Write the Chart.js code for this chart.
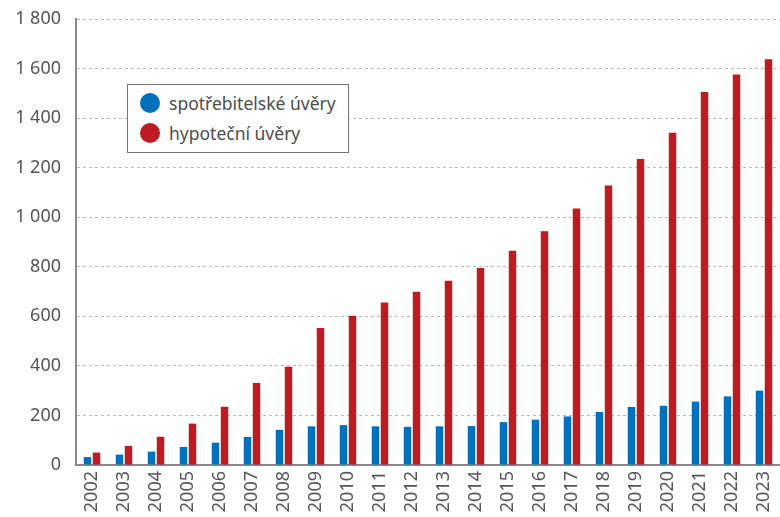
<!DOCTYPE html>
<html>
<head>
<meta charset="utf-8">
<script src="https://cdn.jsdelivr.net/npm/chart.js@4.4.1/dist/chart.umd.min.js"></script>
<style>
  body { margin: 0; background: #fff; }
  #wrap { position: relative; width: 780px; height: 517px; }
  #legend {
    position: absolute; left: 127px; top: 84px; width: 220px; height: 67px;
    border: 1.5px solid #777; background: #fff;
    font-family: "Noto Sans", sans-serif; font-size: 17.5px; color: #4d4d4d;
  }
  #legend .item { position: absolute; left: 12px; height: 20px; line-height: 20px; white-space: nowrap; }
  #legend .dot { display: inline-block; width: 20px; height: 20px; border-radius: 50%; vertical-align: middle; margin-right: 9px; position: relative; top: -2px; }
</style>
</head>
<body>
<div id="wrap">
  <canvas id="chart"></canvas>
  <div id="legend"></div>
</div>
<script>
const years = ["2002", "2003", "2004", "2005", "2006", "2007", "2008", "2009", "2010", "2011", "2012",
  "2013", "2014", "2015", "2016", "2017", "2018", "2019", "2020", "2021", "2022", "2023"];
const consumer = [32, 42, 54, 73, 90, 113, 142, 156, 161, 156, 154, 156, 157, 173, 183, 196, 214, 234, 239, 256, 277, 300];
const mortgage = [50, 77, 114, 167, 235, 331, 397, 553, 602, 656, 699, 744, 795, 865, 943, 1035, 1128, 1235, 1341, 1505, 1576, 1638];
const seriesNames = ["spotřebitelské úvěry", "hypoteční úvěry"];
const seriesColors = ["#0070BA", "#BE1A22"];

const font = { family: "'Noto Sans', sans-serif", size: 18 };

// legend drawn as html on top of the canvas
const legend = document.getElementById("legend");
seriesNames.forEach((name, i) => {
  const item = document.createElement("div");
  item.className = "item";
  item.style.top = (8 + i * 30) + "px";
  item.innerHTML = '<span class="dot" style="background:' + seriesColors[i] + '"></span>' + name;
  legend.appendChild(item);
});

const ctx = document.getElementById("chart").getContext("2d");
const chart = new Chart(ctx, {
  type: "bar",
  data: {
    labels: years,
    datasets: [
      { label: seriesNames[0], data: consumer, backgroundColor: seriesColors[0] },
      { label: seriesNames[1], data: mortgage, backgroundColor: seriesColors[1] },
    ],
  },
  options: {
    responsive: true,
    maintainAspectRatio: false,
    animation: false,
    categoryPercentage: 0.5625,
    barPercentage: 0.83,
    layout: { padding: { top: 19, right: 0, left: 0, bottom: 0 } },
    plugins: { legend: { display: false }, tooltip: { enabled: false } },
    scales: {
      x: {
        grid: { display: false, drawTicks: false },
        border: { display: true, color: "#8a8a8a", width: 2 },
        ticks: { color: "#555", font: font, maxRotation: 90, minRotation: 90, padding: 6 },
        afterFit: (s) => { s.height = 52; s.paddingLeft = 0; s.paddingRight = 0; },
      },
      y: {
        min: 0,
        max: 1800,
        grid: { color: "#bbbbbb", lineWidth: 1, drawTicks: false },
        border: { display: true, color: "#8a8a8a", width: 2, dash: [3, 3] },
        ticks: {
          stepSize: 200,
          color: "#555",
          font: font,
          padding: 15,
          callback: (v) => String(v).replace(/\B(?=(\d{3})+(?!\d))/g, " "),
        },
        afterFit: (s) => { s.width = 76; s.paddingTop = 0; s.paddingBottom = 0; },
      },
    },
  },
});
</script>
</body>
</html>
